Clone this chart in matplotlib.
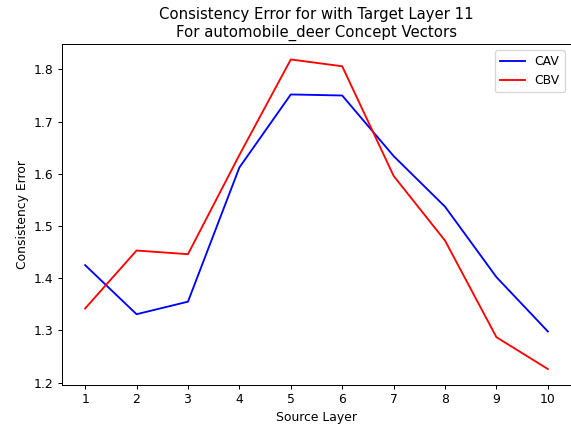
import matplotlib
matplotlib.use("Agg")
import matplotlib.pyplot as plt

layers = [1, 2, 3, 4, 5, 6, 7, 8, 9, 10]
cav = [1.425, 1.331, 1.355, 1.612, 1.752, 1.750, 1.634, 1.537, 1.402, 1.298]
cbv = [1.342, 1.453, 1.446, 1.636, 1.819, 1.806, 1.596, 1.472, 1.287, 1.226]

DPI = 89.2
fig, ax = plt.subplots(figsize=(571 / DPI, 427 / DPI), dpi=DPI)
ax.plot(layers, cav, color="blue", label="CAV")
ax.plot(layers, cbv, color="red", label="CBV")
ax.set_xticks(layers)
ax.set_xlabel("Source Layer")
ax.set_ylabel("Consistency Error")
ax.set_title("Consistency Error for with Target Layer 11\nFor automobile_deer Concept Vectors")
ax.legend(loc="upper right")
fig.subplots_adjust(left=62 / 571, right=1.0, top=1 - 44 / 427, bottom=1 - 384.5 / 427)
fig.savefig("out.png", dpi=DPI)
